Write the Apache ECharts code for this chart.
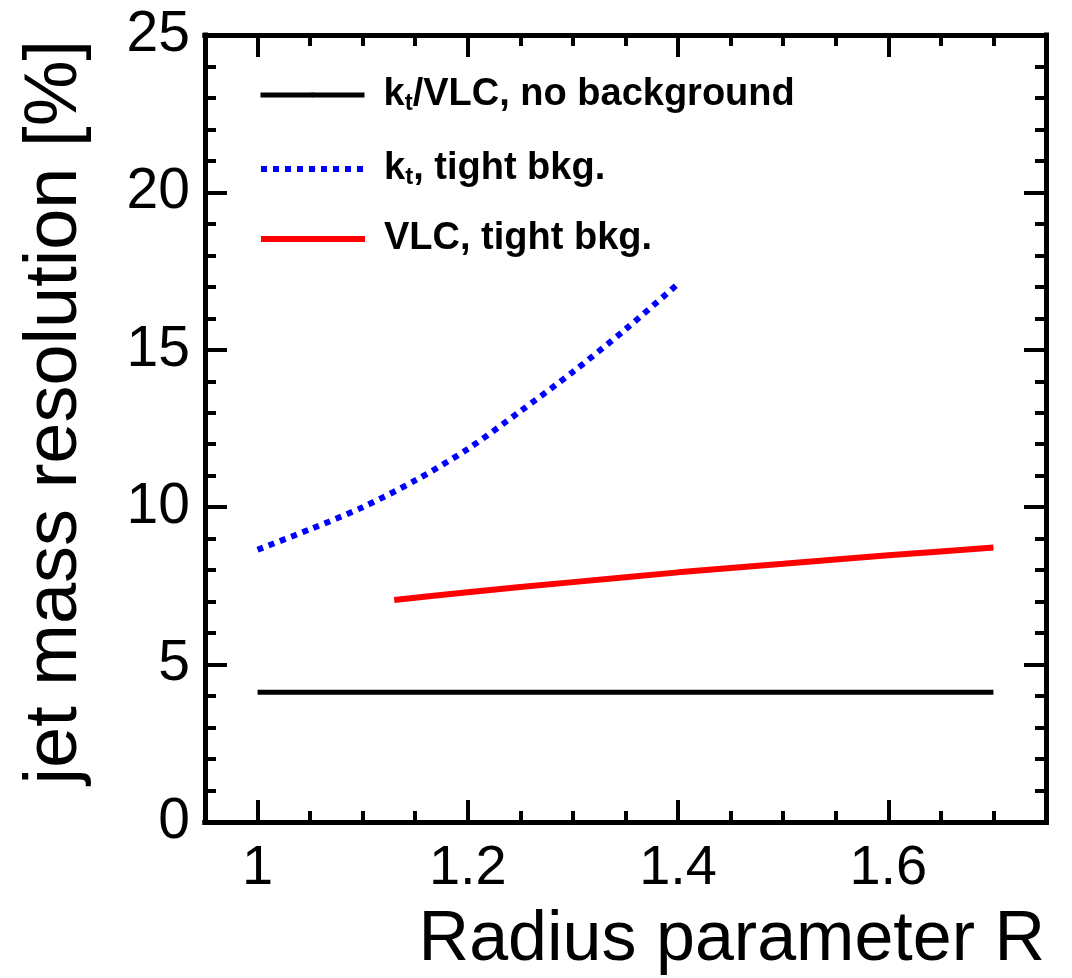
<!DOCTYPE html>
<html><head><meta charset="utf-8">
<script src="https://cdn.jsdelivr.net/npm/echarts@6/dist/echarts.min.js"></script>
<style>html,body{margin:0;padding:0;background:#fff}#c{width:1072px;height:978px}</style>
</head><body><div id="c"></div>
<script>
// ---- data ----
const xMajorTicks = [1.0, 1.2, 1.4, 1.6];
const xMinorTicks = [1.05, 1.1, 1.15, 1.25, 1.3, 1.35, 1.45, 1.5, 1.55, 1.65, 1.7];
const seriesNames = ['kt/VLC, no background', 'kt, tight bkg.', 'VLC, tight bkg.'];
const noBkgR = [1.0, 1.7];
const noBkgVal = [4.12, 4.12];
const ktTightR = [1.0, 1.05, 1.1, 1.15, 1.2, 1.25, 1.3, 1.35, 1.4];
const ktTightVal = [8.65, 9.3, 10.0, 10.85, 11.85, 13.05, 14.3, 15.65, 17.1];
const vlcTightR = [1.13, 1.2, 1.3, 1.4, 1.5, 1.6, 1.7];
const vlcTightVal = [7.05, 7.3, 7.62, 7.93, 8.2, 8.47, 8.72];
const xTitle = 'Radius parameter R';
const yTitle = 'jet mass resolution [%]';

const FONT = '"Liberation Sans", Arial, Helvetica, sans-serif';
const pair = (xs, ys) => xs.map((x, i) => [x, ys[i]]);
const frameLine = { show: true, onZero: false, lineStyle: { color: '#000', width: 5, cap: 'square' } };
const tickStyle = { color: '#000', width: 4 };

function xAx(pos, values, len, labels) {
  return {
    type: 'value', min: 0.95, max: 1.75, position: pos,
    axisLine: frameLine, splitLine: { show: false },
    axisTick: { show: true, inside: true, length: len, lineStyle: tickStyle, customValues: values },
    axisLabel: labels ? {
      show: true, customValues: values, fontSize: 56, fontFamily: FONT, color: '#000', margin: 19,
      formatter: v => String(+v.toFixed(2))
    } : { show: false }
  };
}
function yAx(pos, labels) {
  return {
    type: 'value', min: 0, max: 25, interval: 5, position: pos,
    axisLine: frameLine, splitLine: { show: false },
    axisTick: { show: true, inside: true, length: 22, lineStyle: tickStyle },
    minorTick: { show: true, splitNumber: 5, length: 11, lineStyle: tickStyle },
    minorSplitLine: { show: false },
    axisLabel: labels ? { show: true, fontSize: 57, fontFamily: FONT, color: '#000', margin: 15 } : { show: false }
  };
}

const richText = {
  n: { fontSize: 38, fontWeight: 'bold', fontFamily: FONT, color: '#000', lineHeight: 40, padding: [8, 0, 8, 0] },
  s: { fontSize: 24, fontWeight: 'bold', fontFamily: FONT, color: '#000', lineHeight: 24, verticalAlign: 'bottom' }
};
const legendFmt = name => name.startsWith('kt') ? `{n|k}{s|t}{n|${name.slice(2)}}` : `{n|${name}}`;
function legendAt(name, top, width) {
  return {
    data: [name], left: 258, top: top, padding: 0, itemWidth: 104, itemHeight: 6, selectedMode: false,
    formatter: legendFmt, textStyle: { rich: richText, padding: [0, 0, 0, 14] }, lineStyle: { width: width }
  };
}

const chart = echarts.init(document.getElementById('c'), null, { renderer: 'canvas' });
chart.setOption({
  animation: false,
  backgroundColor: '#fff',
  grid: { left: 205, right: 26, top: 35, bottom: 156, containLabel: false },
  xAxis: [
    xAx('bottom', xMajorTicks, 22, true),
    xAx('bottom', xMinorTicks, 11, false),
    xAx('top', xMajorTicks, 22, false),
    xAx('top', xMinorTicks, 11, false)
  ],
  yAxis: [yAx('left', true), yAx('right', false)],
  legend: [
    legendAt(seriesNames[0], 68, 5),
    legendAt(seriesNames[1], 142, 6),
    legendAt(seriesNames[2], 212, 6)
  ],
  series: [
    { name: seriesNames[0], type: 'line', xAxisIndex: 0, yAxisIndex: 0, showSymbol: false, symbol: 'none',
      data: pair(noBkgR, noBkgVal), lineStyle: { color: '#000', width: 5 }, itemStyle: { color: '#000' } },
    { name: seriesNames[1], type: 'line', xAxisIndex: 0, yAxisIndex: 0, showSymbol: false, symbol: 'none', smooth: 0.3,
      data: pair(ktTightR, ktTightVal), lineStyle: { color: '#0000ff', width: 6, type: [6, 6] }, itemStyle: { color: '#0000ff' } },
    { name: seriesNames[2], type: 'line', xAxisIndex: 0, yAxisIndex: 0, showSymbol: false, symbol: 'none', smooth: 0.3,
      data: pair(vlcTightR, vlcTightVal), lineStyle: { color: '#ff0000', width: 6 }, itemStyle: { color: '#ff0000' } }
  ],
  graphic: [
    { type: 'text', right: 27, top: 906, style: { text: xTitle, font: `70px ${FONT}`, fill: '#000' } },
    { type: 'text', x: 56, y: 40, rotation: Math.PI / 2,
      style: { text: yTitle, font: `74px ${FONT}`, fill: '#000', textAlign: 'right', textVerticalAlign: 'middle' } }
  ]
});
</script></body></html>
